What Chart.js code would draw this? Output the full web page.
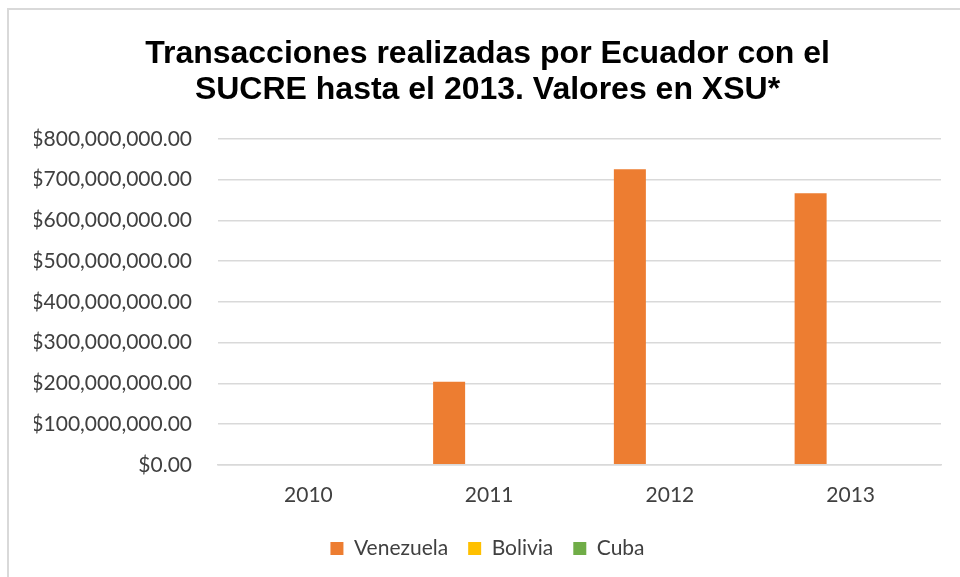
<!DOCTYPE html>
<html>
<head>
<meta charset="utf-8">
<script src="https://cdn.jsdelivr.net/npm/chart.js@4.4.1/dist/chart.umd.min.js"></script>
<style>
    html, body { margin: 0; padding: 0; background: #fff; overflow: hidden; }
    #frame {
        position: absolute; left: 7px; top: 8px;
        width: 980px; height: 600px;
        border-left: 2px solid #d9d9d9; border-top: 2px solid #d9d9d9;
    }
    #wrap { position: absolute; left: 0; top: 0; width: 960px; height: 577px; }
</style>
</head>
<body>
<div id="frame"></div>
<div id="wrap"><canvas id="chart"></canvas></div>
<script>
// Data
const years = ['2010', '2011', '2012', '2013'];
const venezuela = [0, 204000000, 726000000, 667000000];
const bolivia = [0, 0, 0, 0];
const cuba = [0, 0, 0, 0];

const titleLines = ['Transacciones realizadas por Ecuador con el', 'SUCRE hasta el 2013. Valores en XSU*'];

// Format ticks like $800,000,000.00
function money(v) {
    return '$' + Number(v).toLocaleString('en-US', { minimumFractionDigits: 2, maximumFractionDigits: 2 });
}

const ctx = document.getElementById('chart').getContext('2d');

new Chart(ctx, {
    type: 'bar',
    data: {
        labels: years,
        datasets: [
            { label: 'Venezuela', data: venezuela, backgroundColor: '#ed7d31' },
            { label: 'Bolivia', data: bolivia, backgroundColor: '#ffc000' },
            { label: 'Cuba', data: cuba, backgroundColor: '#70ad47' }
        ]
    },
    options: {
        responsive: true,
        maintainAspectRatio: false,
        animation: false,
        layout: { padding: { left: 34, right: 19, top: 36, bottom: 8 } },
        datasets: {
            bar: { barPercentage: 0.8, categoryPercentage: 0.664 }
        },
        plugins: {
            title: {
                display: true,
                text: titleLines,
                color: '#000',
                font: { family: 'Liberation Sans', size: 32, weight: 'bold', lineHeight: 1.125 },
                padding: { top: 0, bottom: 31 }
            },
            legend: {
                position: 'bottom',
                labels: {
                    color: '#404040',
                    font: { family: 'Lato', size: 21 },
                    boxWidth: 13,
                    boxHeight: 13,
                    padding: 20
                }
            },
            tooltip: { enabled: false }
        },
        scales: {
            x: {
                grid: { display: false },
                border: { color: '#d9d9d9', width: 1.5 },
                ticks: {
                    color: '#404040',
                    font: { family: 'Lato', size: 21 },
                    padding: 10
                }
            },
            y: {
                min: 0,
                max: 800000000,
                grid: { color: '#d9d9d9', lineWidth: 1.5, drawTicks: false },
                border: { display: false },
                // keep the plot starting at x=218 like the original
                afterFit: function(scale) { scale.width = 184; },
                ticks: {
                    stepSize: 100000000,
                    color: '#404040',
                    font: { family: 'Lato', size: 21 },
                    padding: 26,
                    callback: function(value) { return money(value); }
                }
            }
        }
    }
});
</script>
</body>
</html>
